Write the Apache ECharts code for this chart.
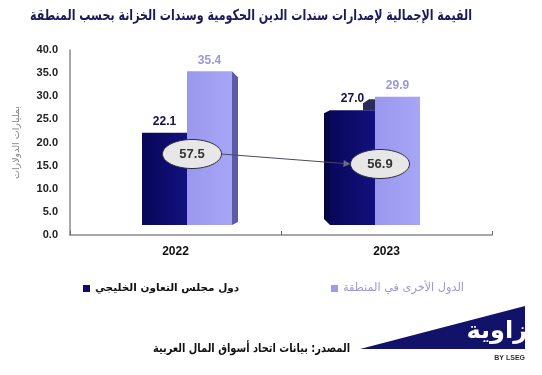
<!DOCTYPE html>
<html><head><meta charset="utf-8">
<script src="https://cdn.jsdelivr.net/npm/echarts@6/dist/echarts.min.js"></script>
<style>html,body{margin:0;padding:0;background:#fff}#c{width:542px;height:375px}</style>
</head><body><div id="c"></div>
<script>
// ---- data ----
const categories = ['2022', '2023'];
const gccValues = [22.1, 27.0];
const otherValues = [35.4, 29.9];
const totals = [57.5, 56.9];
const yMin = 0, yMax = 40, yInterval = 5;
const seriesNames = ['دول مجلس التعاون الخليجي', 'الدول الأخرى في المنطقة'];
const titleText = 'القيمة الإجمالية لإصدارات سندات الدين الحكومية وسندات الخزانة بحسب المنطقة';
const yAxisName = 'بمليارات الدولارات';
const sourceText = 'المصدر: بيانات اتحاد أسواق المال العربية';

// ---- layout / style constants ----
const AR = '"DejaVu Sans", sans-serif';
const LAT = '"Liberation Sans", Arial, sans-serif';
const pairShift = [11.5, -11.5];
const floorGap = 10;
const ellipseRise = [81, 71];
const darkCol = '#0d0c6e', lightCol = '#9d9bf0';
const darkLabel = '#10104a', lightLabel = '#9a98d6';

function fitScale(text, font, targetW) {
  const ctx = document.createElement('canvas').getContext('2d');
  ctx.font = font;
  const w = ctx.measureText(text).width;
  return w > 0 ? Math.min(1, targetW / w) : 1;
}
const titleFont = 'bold 15px ' + AR;
const sourceFont = 'bold 12px ' + AR;
const titleScale = fitScale(titleText, titleFont, 442);
const sourceScale = fitScale(sourceText, sourceFont, 197);

function barRender(sIdx) {
  return function (params, api) {
    const i = api.value(0), v = api.value(1);
    const base = api.coord([i, 0]);
    const top = api.coord([i, v]);
    const band = api.size([1, 0])[0];
    const w = band * 0.2133;
    const cx = base[0] + pairShift[i];
    const x0 = sIdx === 0 ? cx - w : cx;
    const x1 = x0 + w;
    const yb = base[1] - floorGap;
    const yt = top[1];
    const fill = sIdx === 0
      ? new echarts.graphic.LinearGradient(0, 0, 1, 0, [{offset: 0, color: '#07075a'}, {offset: 1, color: '#13117e'}])
      : new echarts.graphic.LinearGradient(0, 0, 1, 0, [{offset: 0, color: '#9a98ee'}, {offset: 1, color: '#a6a5f6'}]);
    const ch = [];
    if (sIdx === 1 && i === 0) {
      ch.push({type: 'polygon', shape: {points: [[x1, yt], [x1 + 6, yt + 6], [x1 + 6, yb - 3], [x1, yb]]},
        style: {fill: '#5c5ba6'}});
    }
    if (sIdx === 0 && i === 1) {
      ch.push({type: 'polygon', shape: {points: [[x0, yt], [x0 - 6, yt + 3], [x0 - 6, yb - 6], [x0, yb]]},
        style: {fill: '#05053f'}});
      ch.push({type: 'polygon', shape: {points: [[x1 - 12, yt], [x1 - 12, yt - 7], [x1 - 6, yt - 11], [x1, yt - 11], [x1, yt]]},
        style: {fill: '#2b2a58'}});
    }
    ch.push({type: 'rect', shape: {x: x0, y: yt, width: w, height: yb - yt}, style: {fill: fill}});
    ch.push({type: 'text', style: {text: v.toFixed(1), x: x0 + w / 2, y: yt - 5, align: 'center', verticalAlign: 'bottom',
      fill: sIdx === 0 ? darkLabel : lightLabel, font: 'bold 12px ' + LAT}});
    return {type: 'group', children: ch};
  };
}

function totalRender(params, api) {
  const i = api.value(0), t = api.value(1);
  const pos = function (k) {
    const b = api.coord([k, 0]);
    return [b[0] + pairShift[k] + 5, b[1] - ellipseRise[k]];
  };
  const p = pos(i);
  const rx = 29.5, ry = 14.5;
  const ch = [];
  if (i === 0) {
    const q = pos(i + 1);
    const sx = p[0] + rx, sy = p[1];
    const ex = q[0] - rx, ey = q[1];
    const ang = Math.atan2(ey - sy, ex - sx);
    const L = 7, W = 3.5;
    const bx = ex - L * Math.cos(ang), by = ey - L * Math.sin(ang);
    ch.push({type: 'line', shape: {x1: sx, y1: sy, x2: bx, y2: by}, style: {stroke: '#4a4a60', lineWidth: 1}});
    ch.push({type: 'polygon', shape: {points: [[ex, ey],
      [bx - W * Math.sin(ang), by + W * Math.cos(ang)], [bx + W * Math.sin(ang), by - W * Math.cos(ang)]]},
      style: {fill: '#6a6a90'}});
  }
  ch.push({type: 'ellipse', shape: {cx: p[0], cy: p[1], rx: rx, ry: ry}, style: {fill: '#e7e7e7', stroke: '#2e2e3e', lineWidth: 1}});
  ch.push({type: 'text', style: {text: t.toFixed(1), x: p[0], y: p[1], align: 'center', verticalAlign: 'middle',
    fill: '#333', font: 'bold 13px ' + LAT}});
  return {type: 'group', children: ch};
}

const chart = echarts.init(document.getElementById('c'), null, {renderer: 'canvas'});
chart.setOption({
  animation: false,
  backgroundColor: '#fff',
  legend: [
    {data: [{name: seriesNames[0], textStyle: {color: '#111'}}], left: 78, top: 278, icon: 'rect',
      itemWidth: 7, itemHeight: 7, itemGap: 6,
      textStyle: {fontFamily: AR, fontSize: 10.5, fontWeight: 'bold'}},
    {data: [{name: seriesNames[1], textStyle: {color: lightLabel}}], left: 326, top: 278, icon: 'rect',
      itemWidth: 7, itemHeight: 7, itemGap: 6,
      textStyle: {fontFamily: AR, fontSize: 11.3, fontWeight: 'normal'}}
  ],
  grid: {left: 70, right: 50, top: 50, bottom: 140},
  xAxis: {type: 'category', data: categories, boundaryGap: true,
    axisLine: {lineStyle: {color: '#8a8a8a', width: 1.5}},
    axisTick: {show: true, inside: true, length: 4, lineStyle: {color: '#666'}},
    axisLabel: {color: '#111', fontFamily: LAT, fontWeight: 'bold', fontSize: 12, margin: 11}},
  yAxis: {type: 'value', min: yMin, max: yMax, interval: yInterval,
    name: yAxisName, nameLocation: 'middle', nameRotate: 90, nameGap: 48,
    nameTextStyle: {color: '#858585', fontFamily: AR, fontSize: 9.5},
    axisLine: {show: true, lineStyle: {color: '#8a8a8a', width: 1.5}},
    axisTick: {show: false},
    splitLine: {show: false},
    axisLabel: {color: '#222', fontFamily: LAT, fontWeight: 'bold', fontSize: 11, margin: 12,
      formatter: function (v) { return v.toFixed(1); }}},
  series: [
    {name: seriesNames[0], type: 'custom', renderItem: barRender(0), itemStyle: {color: darkCol},
      encode: {x: 0, y: 1}, data: gccValues.map(function (v, i) { return [i, v]; }), z: 2},
    {name: seriesNames[1], type: 'custom', renderItem: barRender(1), itemStyle: {color: lightCol},
      encode: {x: 0, y: 1}, data: otherValues.map(function (v, i) { return [i, v]; }), z: 1},
    {name: 'total', type: 'custom', renderItem: totalRender, encode: {x: 0},
      data: totals.map(function (v, i) { return [i, v]; }), z: 5}
  ],
  graphic: [
    {type: 'text', x: 472, y: 16, scaleX: titleScale,
      style: {text: titleText, fill: '#1b1a5c', font: titleFont, align: 'right', verticalAlign: 'middle'}},
    {type: 'text', x: 350, y: 349, scaleX: sourceScale,
      style: {text: sourceText, fill: '#111', font: sourceFont, align: 'right', verticalAlign: 'middle'}},
    {type: 'polygon', shape: {points: [[360, 349], [525, 306], [525, 349]]}, style: {fill: '#13126b'}},
    {type: 'text', x: 527, y: 332, style: {text: 'زاوية', fill: '#fff', font: 'bold 24px ' + AR, align: 'right', verticalAlign: 'middle'}},
    {type: 'text', x: 525, y: 358, style: {text: 'BY LSEG', fill: '#333', font: 'bold 7px ' + LAT, align: 'right', verticalAlign: 'middle'}}
  ]
});
</script>
</body></html>
